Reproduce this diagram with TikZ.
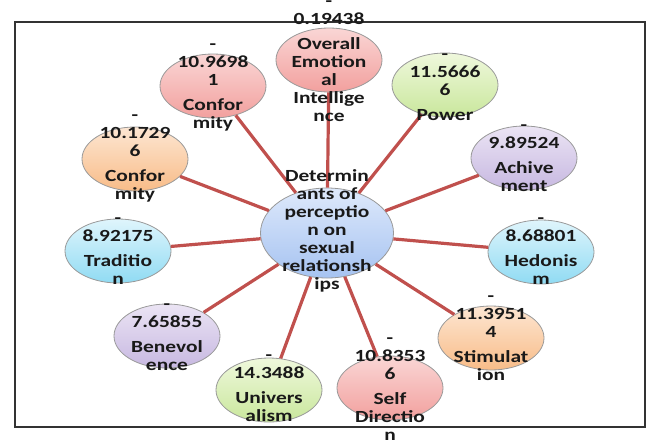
\documentclass[tikz,border=0pt]{standalone}
\usepackage{fontspec}
\setmainfont{Carlito}[FakeStretch=1.26]
\usepackage{tikz}
\usetikzlibrary{shapes.geometric}
\definecolor{spokered}{HTML}{C0504D}
\definecolor{pinkT}{HTML}{FAD6D5}
\definecolor{pinkB}{HTML}{F2A09E}
\definecolor{greenT}{HTML}{EFF8DC}
\definecolor{greenB}{HTML}{C9E79C}
\definecolor{orangeT}{HTML}{FDE6D2}
\definecolor{orangeB}{HTML}{F8BC88}
\definecolor{purpleT}{HTML}{EBE4F4}
\definecolor{purpleB}{HTML}{C7B8E1}
\definecolor{cyanT}{HTML}{DFF5FC}
\definecolor{cyanB}{HTML}{90DBF3}
\definecolor{blueT}{HTML}{DEE9FB}
\definecolor{blueB}{HTML}{A6C3F1}
\tikzset{
  petal/.style={ellipse, draw=black!40, line width=0.8pt,
    top color=#1T, bottom color=#1B,
    minimum width=106pt, minimum height=64pt, inner sep=0pt},
  hub/.style={petal=blue, minimum width=133pt, minimum height=90pt},
  spoke/.style={draw=spokered, line width=3.2pt},
  lbl/.style={align=center, inner sep=0pt, text=black!90,
    font=\fontsize{17}{18}\selectfont\bfseries},
}

\begin{document}
\begin{tikzpicture}[x=1pt,y=-1pt]
                \useasboundingbox (0,0) rectangle (647,439);
                \draw[line width=1.3pt, black!80] (15,22) rectangle (645,427);

                \node[hub] (det) at (327,233) {};
                \node[petal=pink] (emo) at (329,60) {};
                \node[petal=pink] (conf1) at (213,86) {};
                \node[petal=green] (pow) at (445,85) {};
                \node[petal=orange] (conf2) at (135,159) {};
                \node[petal=purple] (ach) at (524,158) {};
                \node[petal=cyan] (trad) at (118,251) {};
                \node[petal=cyan] (hed) at (541,252) {};
                \node[petal=purple] (ben) at (167,336) {};
                \node[petal=orange] (stim) at (491,338) {};
                \node[petal=green] (univ) at (269,390) {};
                \node[petal=pink] (self) at (390,388) {};

                \foreach \n in {emo,conf1,pow,conf2,ach,trad,hed,ben,stim,univ,self} {
                  \draw[spoke] (det) -- (\n);
                }

                \node[lbl] (det-t) at (327,231) {Determin\\ants of\\perceptio\\n on\\sexual\\relationsh\\ips};
                \node[lbl] (emo-t) at (329,61) {-\\0.19438\\[7pt]Overall\\Emotion\\al\\Intellige\\nce};
                \node[lbl] (conf1-t) at (213,87) {-\\10.9698\\1\\[7pt]Confor\\mity};
                \node[lbl] (pow-t) at (445,87) {-\\11.5666\\6\\[7pt]Power};
                \node[lbl] (conf2-t) at (135,158) {-\\10.1729\\6\\[7pt]Confor\\mity};
                \node[lbl] (ach-t) at (524,158) {-\\9.89524\\[7pt]Achive\\ment};
                \node[lbl] (trad-t) at (118,251) {-\\8.92175\\[7pt]Traditio\\n};
                \node[lbl] (hed-t) at (541,251) {-\\8.68801\\[7pt]Hedonis\\m};
                \node[lbl] (ben-t) at (167,337) {-\\7.65855\\[7pt]Benevol\\ence};
                \node[lbl] (stim-t) at (491,338) {-\\11.3951\\4\\[7pt]Stimulat\\ion};
                \node[lbl] (univ-t) at (269,388) {-\\14.3488\\[7pt]Univers\\alism};
                \node[lbl] (self-t) at (390,389) {-\\10.8353\\6\\[7pt]Self\\Directio\\n};
\end{tikzpicture}
\end{document}
